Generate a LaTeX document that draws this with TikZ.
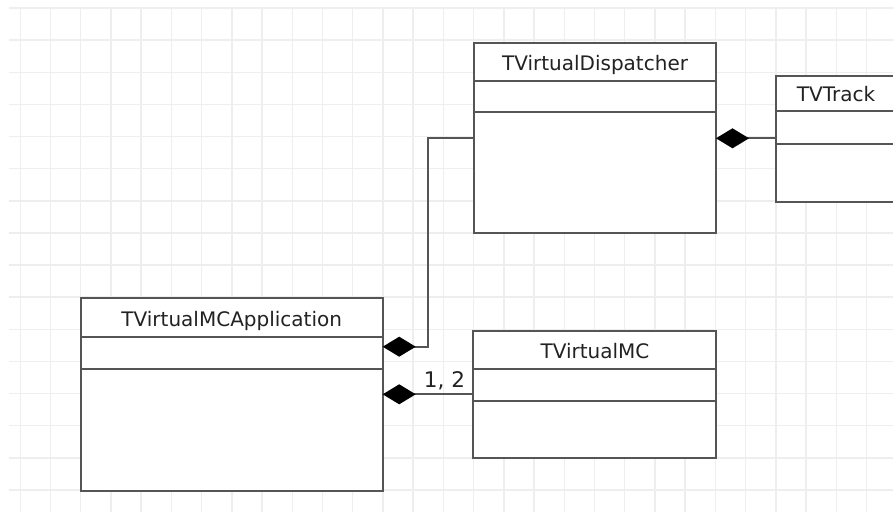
\documentclass[tikz,border=0pt]{standalone}
\usepackage{fontspec}
\setmainfont{DejaVu Sans}
\usetikzlibrary{arrows.meta}
\definecolor{gridc}{HTML}{EEEEEE}
\definecolor{linec}{HTML}{555555}
\definecolor{textc}{HTML}{222222}
\begin{document}
\begin{tikzpicture}[x=1pt,y=-1pt,
  umlbox/.style={draw=linec, line width=2pt, fill=white, anchor=north west, inner sep=0pt, outer sep=0pt},
  divider/.style={draw=linec, line width=2pt},
  title/.style={text=textc, font=\fontsize{20}{24}\selectfont, anchor=base, inner sep=0pt},
  conn/.style={draw=linec, line width=2pt},
  comp/.style={conn, {Diamond[length=33pt,width=20pt,fill=black,color=black]}-}]
\useasboundingbox (0,0) rectangle (893,512);
\clip (0,0) rectangle (893,512);
\fill[white] (0,0) rectangle (893,512);
% grid
\foreach \k in {0,...,28} \draw[gridc, line width=1.5pt] ({20.3+30.22*\k},8) -- ({20.3+30.22*\k},512);
\foreach \k in {0,...,15} \draw[gridc, line width=1.5pt] (9,{8+32.13*\k}) -- (893,{8+32.13*\k});
% TVirtualDispatcher
\node[umlbox, minimum width=242pt, minimum height=190pt] (disp) at (474,43) {};
\draw[divider] (disp.west |- 0,81) -- (disp.east |- 0,81);
\draw[divider] (disp.west |- 0,112) -- (disp.east |- 0,112);
\node[title] (dispt) at (595,70) {TVirtualDispatcher};
% TVTrack
\node[umlbox, minimum width=160pt, minimum height=126.5pt] (track) at (776,75.8) {};
\draw[divider] (track.west |- 0,111) -- (track.east |- 0,111);
\draw[divider] (track.west |- 0,144.3) -- (track.east |- 0,144.3);
\node[title, anchor=base west] (trackt) at (796.7,101) {TVTrack};
% TVirtualMCApplication
\node[umlbox, minimum width=302pt, minimum height=192.5pt] (app) at (80.7,298.3) {};
\draw[divider] (app.west |- 0,336.7) -- (app.east |- 0,336.7);
\draw[divider] (app.west |- 0,369) -- (app.east |- 0,369);
\node[title] (appt) at (231.7,326) {TVirtualMCApplication};
% TVirtualMC
\node[umlbox, minimum width=242.7pt, minimum height=127pt] (vmc) at (473.3,331) {};
\draw[divider] (vmc.west |- 0,369) -- (vmc.east |- 0,369);
\draw[divider] (vmc.west |- 0,400.7) -- (vmc.east |- 0,400.7);
\node[title] (vmct) at (595,358.3) {TVirtualMC};
% connectors
\coordinate (bend) at (428.3,346.7);
\draw[comp] (app.east |- 0,346.7) -- (bend) -- (bend |- 0,138.3) -- (disp.west |- 0,138.3);
\draw[comp] (app.east |- 0,394.3) -- (vmc.west |- 0,394.3);
\draw[comp] (disp.east |- 0,138.3) -- (track.west |- 0,138.3);
\node[title, font=\fontsize{21.5}{24}\selectfont] (mult) at (444.5,387.7) {1, 2};
\end{tikzpicture}
\end{document}
